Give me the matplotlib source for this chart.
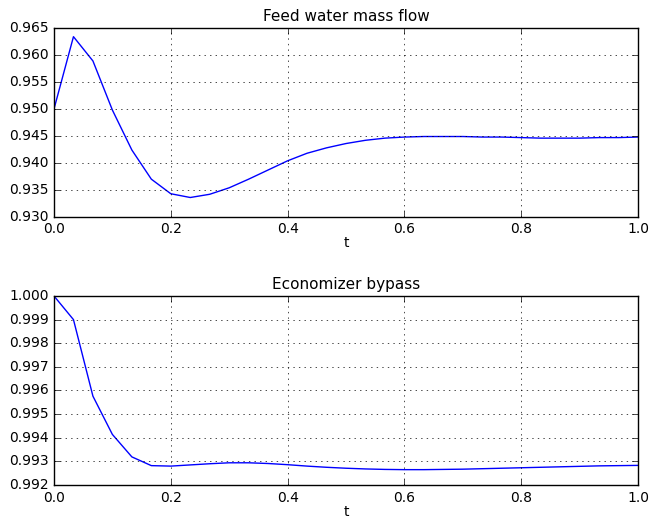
import numpy as np
import matplotlib
matplotlib.use("Agg")
import matplotlib.pyplot as plt

# time grid, 31 samples from 0 to 1
t = np.linspace(0.0, 1.0, 31)

feed_water = [0.9500, 0.9634, 0.9589, 0.9498, 0.9424, 0.9370, 0.9343, 0.9336,
              0.9342, 0.9354, 0.9370, 0.9387, 0.9404, 0.9418, 0.9428, 0.9436,
              0.9442, 0.9446, 0.9448, 0.9449, 0.9449, 0.9449, 0.9448, 0.9448,
              0.9447, 0.9446, 0.9446, 0.9446, 0.9447, 0.9447, 0.9448]

eco_bypass = [1.00000, 0.99900, 0.99576, 0.99414, 0.99319, 0.99282, 0.99280,
              0.99285, 0.99290, 0.99294, 0.99294, 0.99291, 0.99286, 0.99280,
              0.99275, 0.99271, 0.99268, 0.99266, 0.99265, 0.99265, 0.99266,
              0.99267, 0.99269, 0.99271, 0.99273, 0.99275, 0.99277, 0.99279,
              0.99281, 0.99282, 0.99283]

plt.style.use('classic')
plt.rcParams['figure.facecolor'] = 'white'
plt.rcParams['savefig.facecolor'] = 'white'
plt.rcParams['font.size'] = 10

fig = plt.figure(figsize=(6.49, 5.19), dpi=100)
ax1 = fig.add_axes([0.0832, 0.582, 0.8998, 0.364])
ax2 = fig.add_axes([0.0832, 0.0655, 0.8998, 0.3642])

ax1.plot(t, feed_water, 'b-')
ax1.set_title('Feed water mass flow', fontsize=11)
ax1.set_xlabel('t', labelpad=0)
ax1.set_ylim(0.930, 0.965)
ax1.set_yticks(np.arange(0.930, 0.9651, 0.005))
ax1.yaxis.set_major_formatter(matplotlib.ticker.FormatStrFormatter('%.3f'))
ax1.grid(True)

ax2.plot(t, eco_bypass, 'b-')
ax2.set_title('Economizer bypass', fontsize=11)
ax2.set_xlabel('t', labelpad=0)
ax2.set_ylim(0.992, 1.000)
ax2.set_yticks(np.arange(0.992, 1.00001, 0.001))
ax2.yaxis.set_major_formatter(matplotlib.ticker.FormatStrFormatter('%.3f'))
ax2.grid(True)

for ax in (ax1, ax2):
    ax.set_xlim(0.0, 1.0)

fig.savefig('out.png', dpi=100)
